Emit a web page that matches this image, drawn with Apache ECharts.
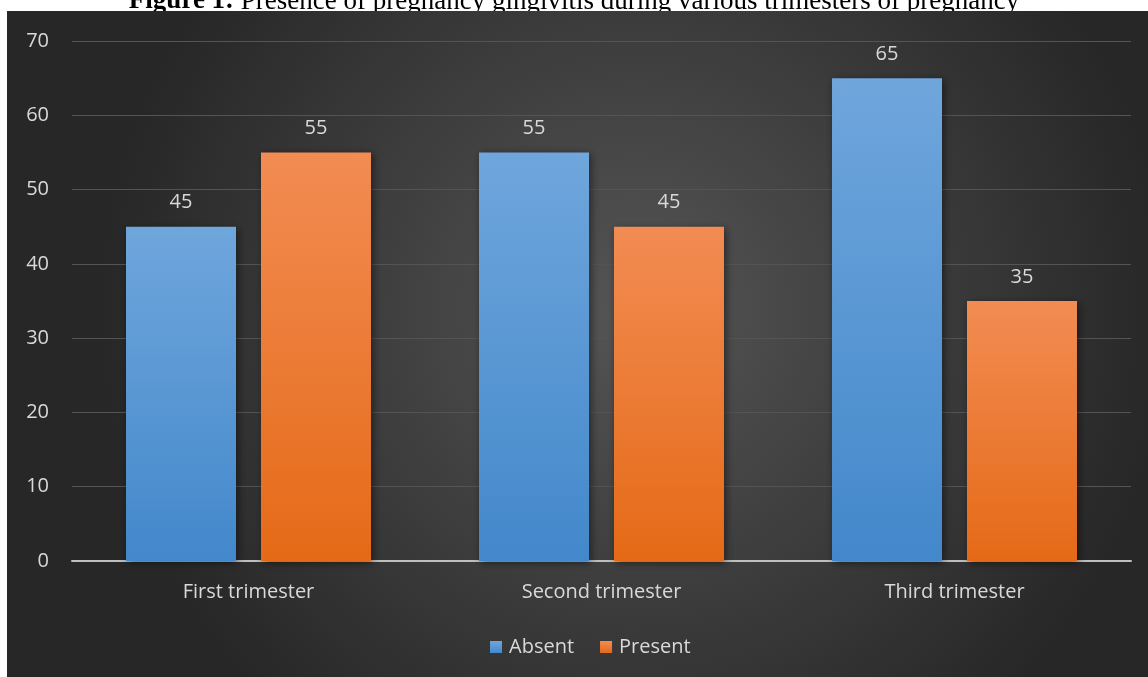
<!DOCTYPE html>
<html>
<head>
<meta charset="utf-8">
<script src="https://cdn.jsdelivr.net/npm/echarts@6/dist/echarts.min.js"></script>
<style>
html,body{margin:0;padding:0;background:#fff;}
#c{width:1148px;height:677px;}
</style>
</head>
<body>
<div id="c"></div>
<script>
const categories = ['First trimester', 'Second trimester', 'Third trimester'];
const absent = [45, 55, 65];
const present = [55, 45, 35];
const seriesNames = ['Absent', 'Present'];

const chart = echarts.init(document.getElementById('c'));
const font = '"Open Sans", "Noto Sans", sans-serif';
const lbl = '#d9d9d9';
const fs = 20;

function grad(top, bottom) {
  return new echarts.graphic.LinearGradient(0, 0, 0, 1, [
    {offset: 0, color: top}, {offset: 1, color: bottom}
  ]);
}

chart.setOption({
  backgroundColor: '#ffffff',
  animation: false,
  graphic: [
    {
      type: 'text', z: -10, left: 'center', top: -12,
      style: {
        text: '{b|Figure 1:} Presence of pregnancy gingivitis during various trimesters of pregnancy',
        rich: {
          b: {fontWeight: 'bold', fontFamily: '"Liberation Serif", serif', fontSize: 27, fill: '#000'}
        },
        fontFamily: '"Liberation Serif", serif', fontSize: 27, fill: '#000'
      }
    },
    {
      type: 'rect', z: -5, shape: {x: 7, y: 11, width: 1141, height: 666},
      style: {
        fill: new echarts.graphic.RadialGradient(0.55, 0.45, 0.8, [
          {offset: 0, color: '#555555'},
          {offset: 1, color: '#272727'}
        ])
      }
    }
  ],
  grid: {left: 72, right: 17, top: 41, bottom: 116},
  legend: {
    data: seriesNames, top: 632, left: 485,
    itemWidth: 12, itemHeight: 12, itemGap: 26,
    icon: 'rect',
    textStyle: {color: lbl, fontSize: fs, fontFamily: font, padding: [0, 0, 0, 2]}
  },
  xAxis: {
    type: 'category', data: categories,
    axisLine: {lineStyle: {color: '#bfbfbf', width: 2}},
    axisTick: {show: false},
    axisLabel: {color: lbl, fontSize: fs, fontFamily: font, margin: 21}
  },
  yAxis: {
    type: 'value', min: 0, max: 70, interval: 10,
    axisLine: {show: false}, axisTick: {show: false},
    splitLine: {lineStyle: {color: '#545454', width: 1}},
    axisLabel: {color: lbl, fontSize: fs, fontFamily: font, margin: 23}
  },
  series: [
    {
      name: 'Absent', type: 'bar', data: absent, barWidth: 110, barGap: '22.7%',
      itemStyle: {color: grad('#6fa6dc', '#4388cb'), shadowBlur: 8, shadowColor: 'rgba(0,0,0,0.5)', shadowOffsetX: 2, shadowOffsetY: 2},
      label: {show: true, position: 'top', distance: 14, color: lbl, fontSize: fs, fontFamily: font}
    },
    {
      name: 'Present', type: 'bar', data: present, barWidth: 110,
      itemStyle: {color: grad('#f28c53', '#e56a17'), shadowBlur: 8, shadowColor: 'rgba(0,0,0,0.5)', shadowOffsetX: 2, shadowOffsetY: 2},
      label: {show: true, position: 'top', distance: 14, color: lbl, fontSize: fs, fontFamily: font}
    }
  ]
});
</script>
</body>
</html>
